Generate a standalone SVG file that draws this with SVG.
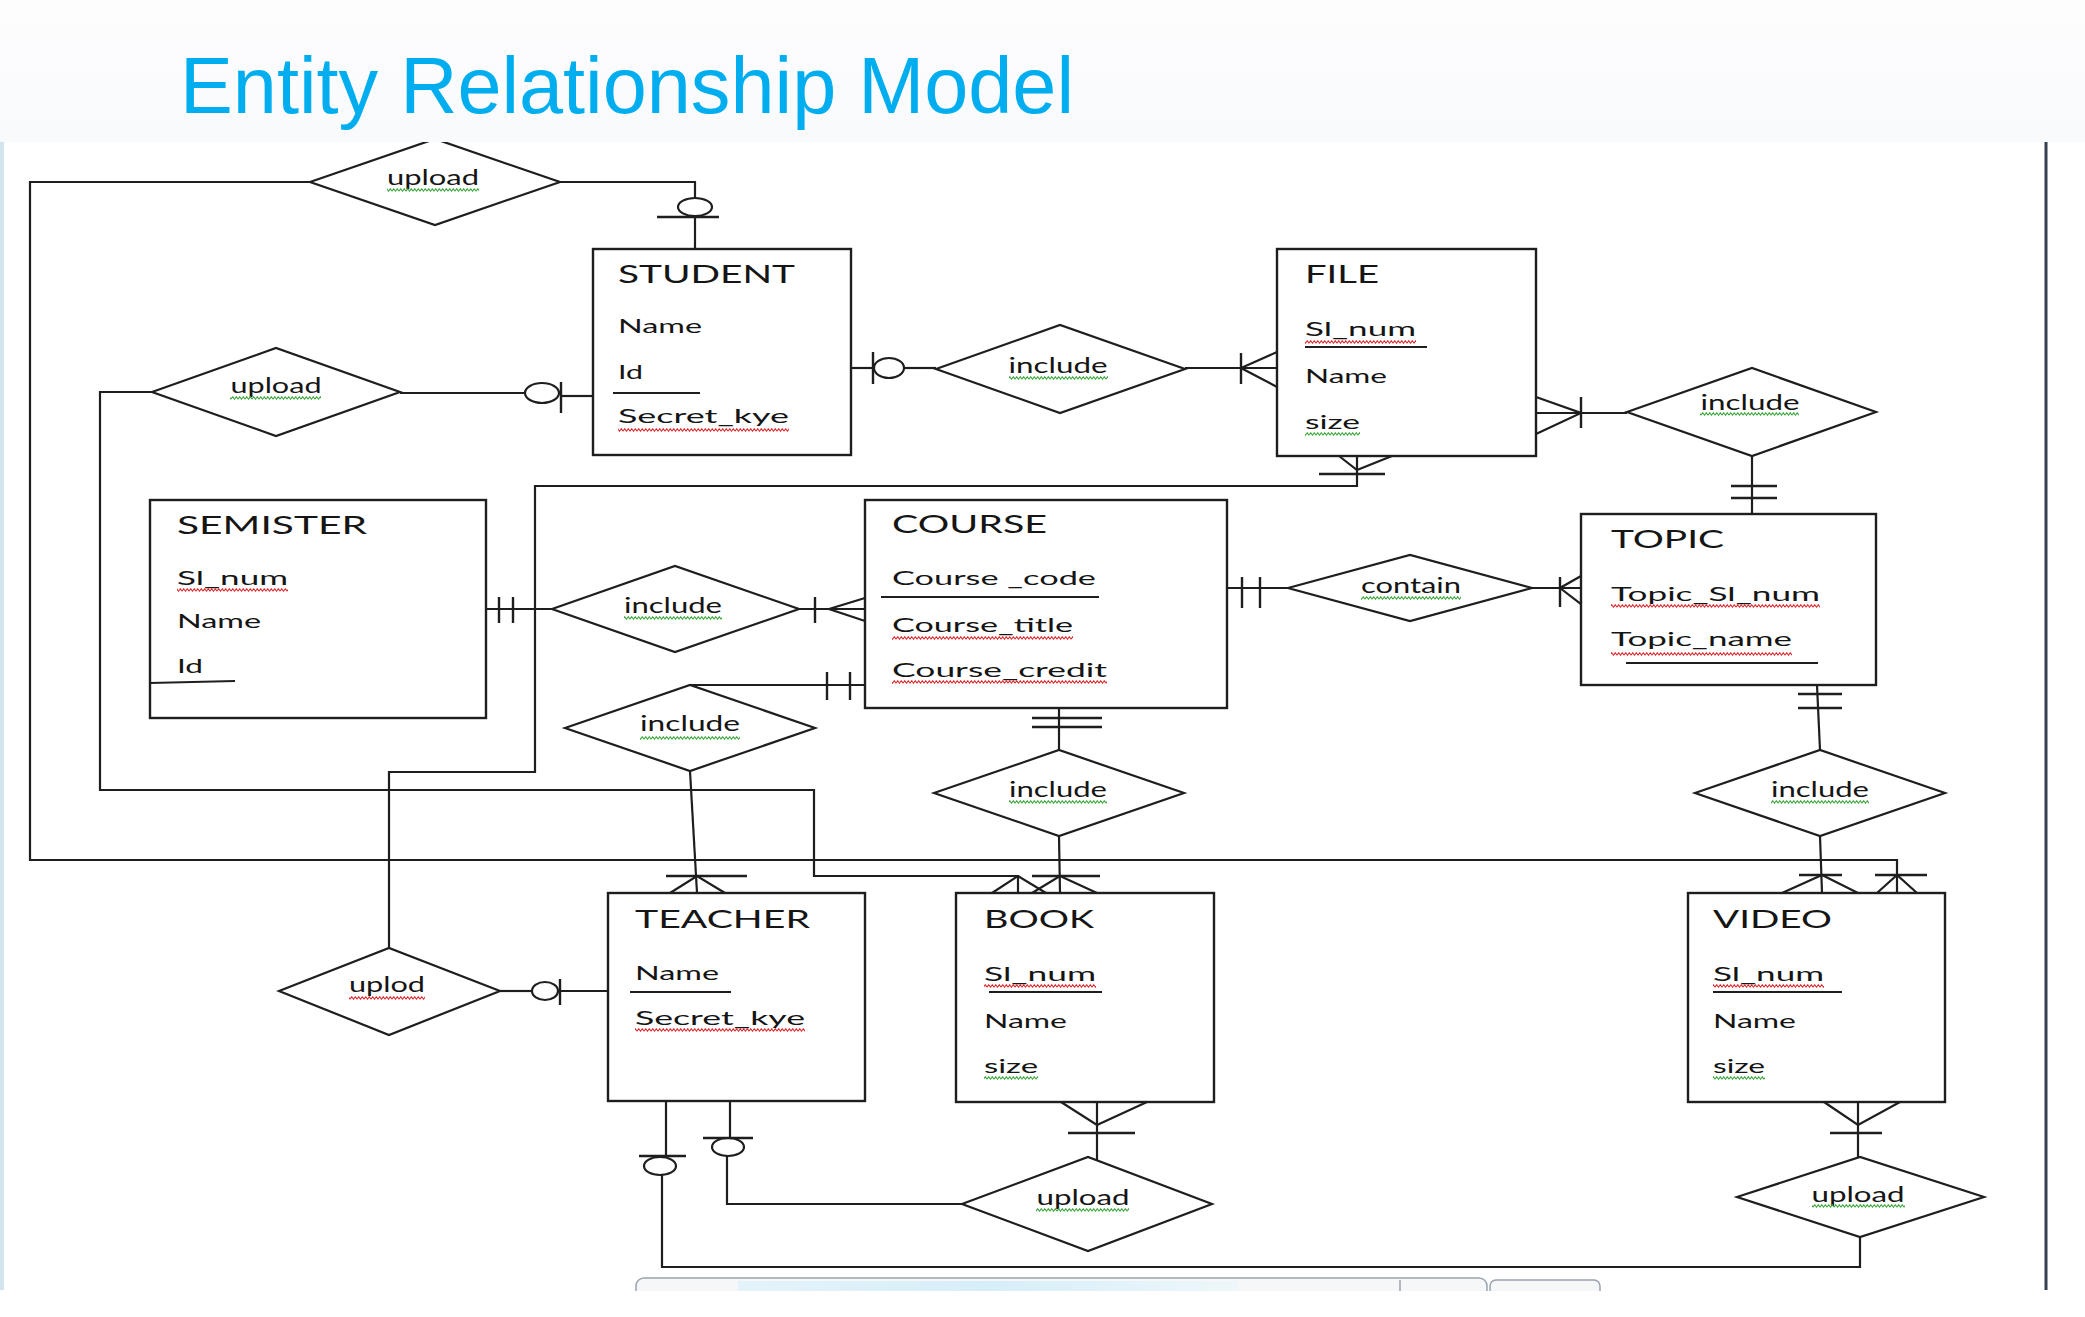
<svg xmlns="http://www.w3.org/2000/svg" width="2085" height="1317" viewBox="0 0 2085 1317">
<defs>
<style>
.box{fill:#fff;stroke:#1e1e1e;stroke-width:2.4}
.dia{fill:#fff;stroke:#1e1e1e;stroke-width:2.2}
.ln{fill:none;stroke:#1e1e1e;stroke-width:2.2}
.sym{fill:none;stroke:#1e1e1e;stroke-width:2.4}
.ell{fill:#fff;stroke:#1e1e1e;stroke-width:2.2}
text{font-family:Lato,Carlito,"Liberation Sans",sans-serif;fill:#151515}
.t{font-size:25px}
.a{font-size:20px}
.r{font-size:21px;text-anchor:middle}
.sr{fill:url(#sqr)}
.sg{fill:url(#sqg)}
text.title{font-family:"Liberation Sans",Arial,sans-serif;font-size:80px;fill:#00aeef}
</style>
<pattern id="sqr" patternUnits="userSpaceOnUse" width="7" height="4"><path d="M0 3.2L1.75 0.8L3.5 3.2L5.25 0.8L7 3.2" fill="none" stroke="#e0262a" stroke-width="1.1"/></pattern>
<pattern id="sqg" patternUnits="userSpaceOnUse" width="7" height="4"><path d="M0 3.2L1.75 0.8L3.5 3.2L5.25 0.8L7 3.2" fill="none" stroke="#3aa53a" stroke-width="1.1"/></pattern>
<linearGradient id="hdr" x1="0" y1="0" x2="0" y2="1"><stop offset="0" stop-color="#fdfdfe"/><stop offset="1" stop-color="#f9fafc"/></linearGradient>
<linearGradient id="tb" x1="0" y1="0" x2="1" y2="0"><stop offset="0" stop-color="#e4f3fa"/><stop offset="0.5" stop-color="#d6eef8"/><stop offset="1" stop-color="#eef7fb"/></linearGradient>
</defs>
<rect x="0" y="0" width="2085" height="1317" fill="#fff"/>
<rect x="0" y="142" width="4" height="1148" fill="#d4e4ee"/>

<g id="connectors">
  <!-- upload1 -> VIDEO (long loop) -->
  <polyline class="ln" points="310,182 30,182 30,860 1897,860 1897,893"/>
  <line class="sym" x1="1875" y1="875" x2="1927" y2="875"/>
  <polyline class="ln" points="1877,893 1897,875 1917,893"/>
  <!-- upload1 -> STUDENT -->
  <polyline class="ln" points="560,182 695,182 695,198"/>
  <ellipse class="ell" cx="695" cy="207" rx="17" ry="9"/>
  <line class="sym" x1="657" y1="217" x2="719" y2="217"/>
  <line class="ln" x1="695" y1="216" x2="695" y2="249"/>
  <!-- upload2 -> STUDENT -->
  <line class="ln" x1="400" y1="393" x2="525" y2="393"/>
  <ellipse class="ell" cx="542" cy="393" rx="17" ry="10"/>
  <line class="sym" x1="561" y1="382" x2="561" y2="413"/>
  <line class="ln" x1="561" y1="396" x2="593" y2="396"/>
  <!-- upload2 -> BOOK -->
  <polyline class="ln" points="152,392 100,392 100,790 814,790 814,876 1018,876 1018,893"/>
  <polyline class="ln" points="992,893 1018,876 1046,893"/>
  <!-- STUDENT -> include1 -->
  <line class="ln" x1="851" y1="368" x2="874" y2="368"/>
  <line class="sym" x1="873" y1="352" x2="873" y2="384"/>
  <ellipse class="ell" cx="889" cy="368" rx="15" ry="10"/>
  <line class="ln" x1="904" y1="368" x2="936" y2="368"/>
  <!-- include1 -> FILE -->
  <line class="ln" x1="1185" y1="368" x2="1277" y2="368"/>
  <line class="sym" x1="1241" y1="353" x2="1241" y2="384"/>
  <polyline class="ln" points="1277,352 1241,368 1277,387"/>
  <!-- FILE -> include2 -->
  <line class="ln" x1="1536" y1="413" x2="1627" y2="413"/>
  <line class="sym" x1="1581" y1="397" x2="1581" y2="428"/>
  <polyline class="ln" points="1536,397 1581,413 1536,434"/>
  <!-- include2 -> TOPIC -->
  <line class="ln" x1="1752" y1="456" x2="1752" y2="514"/>
  <line class="sym" x1="1731" y1="486" x2="1777" y2="486"/>
  <line class="sym" x1="1731" y1="498" x2="1777" y2="498"/>
  <!-- FILE -> uplod (teacher) -->
  <polyline class="ln" points="1357,456 1357,486 535,486 535,772 389,772 389,948"/>
  <line class="sym" x1="1319" y1="474" x2="1385" y2="474"/>
  <polyline class="ln" points="1339,456 1357,470 1392,456"/>
  <!-- SEMISTER -> include3 -->
  <line class="ln" x1="486" y1="609" x2="552" y2="609"/>
  <line class="sym" x1="499" y1="597" x2="499" y2="623"/>
  <line class="sym" x1="513" y1="597" x2="513" y2="623"/>
  <!-- include3 -> COURSE -->
  <line class="ln" x1="799" y1="609" x2="865" y2="609"/>
  <line class="sym" x1="815" y1="597" x2="815" y2="623"/>
  <polyline class="ln" points="865,598 829,609 865,621"/>
  <!-- include4 -> COURSE -->
  <line class="ln" x1="690" y1="685" x2="865" y2="685"/>
  <line class="sym" x1="827" y1="672" x2="827" y2="700"/>
  <line class="sym" x1="850" y1="672" x2="850" y2="700"/>
  <!-- include4 -> TEACHER -->
  <line class="ln" x1="690" y1="771" x2="697" y2="893"/>
  <line class="sym" x1="666" y1="876" x2="747" y2="876"/>
  <polyline class="ln" points="670,893 697,876 725,893"/>
  <!-- COURSE -> contain -->
  <line class="ln" x1="1227" y1="588" x2="1288" y2="588"/>
  <line class="sym" x1="1242" y1="577" x2="1242" y2="608"/>
  <line class="sym" x1="1260" y1="577" x2="1260" y2="608"/>
  <!-- contain -> TOPIC -->
  <line class="ln" x1="1532" y1="588" x2="1581" y2="588"/>
  <line class="sym" x1="1560" y1="577" x2="1560" y2="607"/>
  <polyline class="ln" points="1581,576 1560,588 1581,604"/>
  <!-- COURSE -> include5 -->
  <line class="ln" x1="1059" y1="708" x2="1059" y2="750"/>
  <line class="sym" x1="1032" y1="718" x2="1102" y2="718"/>
  <line class="sym" x1="1032" y1="727" x2="1102" y2="727"/>
  <!-- include5 -> BOOK -->
  <line class="ln" x1="1059" y1="836" x2="1060" y2="893"/>
  <line class="sym" x1="1032" y1="876" x2="1100" y2="876"/>
  <polyline class="ln" points="1032,893 1060,876 1097,893"/>
  <!-- TOPIC -> include6 -->
  <line class="ln" x1="1817" y1="685" x2="1820" y2="750"/>
  <line class="sym" x1="1798" y1="694" x2="1842" y2="694"/>
  <line class="sym" x1="1798" y1="708" x2="1842" y2="708"/>
  <!-- include6 -> VIDEO -->
  <line class="ln" x1="1820" y1="836" x2="1822" y2="893"/>
  <line class="sym" x1="1799" y1="875" x2="1842" y2="875"/>
  <polyline class="ln" points="1782,893 1822,875 1858,893"/>
  <!-- TEACHER -> uplod -->
  <line class="ln" x1="500" y1="991" x2="532" y2="991"/>
  <ellipse class="ell" cx="545" cy="991" rx="13" ry="9"/>
  <line class="sym" x1="560" y1="979" x2="560" y2="1005"/>
  <line class="ln" x1="560" y1="991" x2="608" y2="991"/>
  <!-- BOOK -> upload (book) -->
  <line class="ln" x1="1097" y1="1102" x2="1097" y2="1160"/>
  <polyline class="ln" points="1061,1102 1097,1125 1147,1102"/>
  <line class="sym" x1="1068" y1="1133" x2="1135" y2="1133"/>
  <!-- upload (book) -> TEACHER -->
  <polyline class="ln" points="962,1204 727,1204 727,1156"/>
  <ellipse class="ell" cx="728" cy="1147" rx="16" ry="9"/>
  <line class="sym" x1="703" y1="1138" x2="753" y2="1138"/>
  <line class="ln" x1="730" y1="1138" x2="730" y2="1101"/>
  <!-- upload (video) -> TEACHER -->
  <polyline class="ln" points="1860,1237 1860,1267 662,1267 662,1175"/>
  <ellipse class="ell" cx="660" cy="1166" rx="16" ry="9"/>
  <line class="sym" x1="639" y1="1156" x2="686" y2="1156"/>
  <line class="ln" x1="666" y1="1156" x2="666" y2="1101"/>
  <!-- VIDEO -> upload (video) -->
  <line class="ln" x1="1858" y1="1102" x2="1858" y2="1157"/>
  <polyline class="ln" points="1824,1102 1858,1125 1900,1102"/>
  <line class="sym" x1="1830" y1="1133" x2="1882" y2="1133"/>
</g>

<g id="n-student">
  <rect class="box" x="593" y="249" width="258" height="206"/>
  <text class="t" x="618" y="283" textLength="177" lengthAdjust="spacingAndGlyphs">STUDENT</text>
  <text class="a" x="618" y="333" textLength="84" lengthAdjust="spacingAndGlyphs">Name</text>
  <text class="a" x="618" y="379" textLength="25" lengthAdjust="spacingAndGlyphs">Id</text>
  <line class="ln" x1="613" y1="393" x2="700" y2="393"/>
  <text class="a" x="618" y="423" textLength="171" lengthAdjust="spacingAndGlyphs">Secret_kye</text>
  <rect class="sr" x="618" y="428" width="171" height="4"/>
</g>
<g id="n-file">
  <rect class="box" x="1277" y="249" width="259" height="207"/>
  <text class="t" x="1305" y="283" textLength="74" lengthAdjust="spacingAndGlyphs">FILE</text>
  <text class="a" x="1305" y="336" textLength="111" lengthAdjust="spacingAndGlyphs">Sl_num</text>
  <rect class="sr" x="1305" y="340" width="111" height="4"/>
  <line class="ln" x1="1305" y1="347" x2="1427" y2="347"/>
  <text class="a" x="1305" y="383" textLength="82" lengthAdjust="spacingAndGlyphs">Name</text>
  <text class="a" x="1305" y="429" textLength="55" lengthAdjust="spacingAndGlyphs">size</text>
  <rect class="sg" x="1305" y="432" width="55" height="4"/>
</g>
<g id="n-semister">
  <rect class="box" x="150" y="500" width="336" height="218"/>
  <text class="t" x="177" y="534" textLength="190" lengthAdjust="spacingAndGlyphs">SEMISTER</text>
  <text class="a" x="177" y="585" textLength="111" lengthAdjust="spacingAndGlyphs">Sl_num</text>
  <rect class="sr" x="177" y="588" width="111" height="4"/>
  <text class="a" x="177" y="628" textLength="84" lengthAdjust="spacingAndGlyphs">Name</text>
  <text class="a" x="177" y="673" textLength="26" lengthAdjust="spacingAndGlyphs">Id</text>
  <line class="ln" x1="150" y1="683" x2="235" y2="681"/>
</g>
<g id="n-course">
  <rect class="box" x="865" y="500" width="362" height="208"/>
  <text class="t" x="892" y="533" textLength="155" lengthAdjust="spacingAndGlyphs">COURSE</text>
  <text class="a" x="892" y="585" textLength="204" lengthAdjust="spacingAndGlyphs">Course _code</text>
  <line class="ln" x1="881" y1="597" x2="1099" y2="597"/>
  <text class="a" x="892" y="632" textLength="181" lengthAdjust="spacingAndGlyphs">Course_title</text>
  <rect class="sr" x="892" y="636" width="181" height="4"/>
  <text class="a" x="892" y="677" textLength="215" lengthAdjust="spacingAndGlyphs">Course_credit</text>
  <rect class="sr" x="892" y="680" width="215" height="4"/>
</g>
<g id="n-topic">
  <rect class="box" x="1581" y="514" width="295" height="171"/>
  <text class="t" x="1611" y="548" textLength="113" lengthAdjust="spacingAndGlyphs">TOPIC</text>
  <text class="a" x="1611" y="601" textLength="209" lengthAdjust="spacingAndGlyphs">Topic_Sl_num</text>
  <rect class="sr" x="1611" y="604" width="209" height="4"/>
  <text class="a" x="1611" y="646" textLength="181" lengthAdjust="spacingAndGlyphs">Topic_name</text>
  <rect class="sr" x="1611" y="652" width="181" height="4"/>
  <line class="ln" x1="1626" y1="663" x2="1818" y2="663"/>
</g>
<g id="n-teacher">
  <rect class="box" x="608" y="893" width="257" height="208"/>
  <text class="t" x="635" y="928" textLength="175" lengthAdjust="spacingAndGlyphs">TEACHER</text>
  <text class="a" x="635" y="980" textLength="84" lengthAdjust="spacingAndGlyphs">Name</text>
  <line class="ln" x1="630" y1="992" x2="731" y2="992"/>
  <text class="a" x="635" y="1025" textLength="170" lengthAdjust="spacingAndGlyphs">Secret_kye</text>
  <rect class="sr" x="635" y="1028" width="170" height="4"/>
</g>
<g id="n-book">
  <rect class="box" x="956" y="893" width="258" height="209"/>
  <text class="t" x="984" y="928" textLength="110" lengthAdjust="spacingAndGlyphs">BOOK</text>
  <text class="a" x="984" y="981" textLength="112" lengthAdjust="spacingAndGlyphs">Sl_num</text>
  <rect class="sr" x="984" y="984" width="112" height="4"/>
  <line class="ln" x1="989" y1="992" x2="1102" y2="992"/>
  <text class="a" x="984" y="1028" textLength="83" lengthAdjust="spacingAndGlyphs">Name</text>
  <text class="a" x="984" y="1073" textLength="54" lengthAdjust="spacingAndGlyphs">size</text>
  <rect class="sg" x="984" y="1076" width="54" height="4"/>
</g>
<g id="n-video">
  <rect class="box" x="1688" y="893" width="257" height="209"/>
  <text class="t" x="1713" y="928" textLength="119" lengthAdjust="spacingAndGlyphs">VIDEO</text>
  <text class="a" x="1713" y="981" textLength="111" lengthAdjust="spacingAndGlyphs">Sl_num</text>
  <rect class="sr" x="1713" y="984" width="111" height="4"/>
  <line class="ln" x1="1713" y1="992" x2="1842" y2="992"/>
  <text class="a" x="1713" y="1028" textLength="83" lengthAdjust="spacingAndGlyphs">Name</text>
  <text class="a" x="1713" y="1073" textLength="52" lengthAdjust="spacingAndGlyphs">size</text>
  <rect class="sg" x="1713" y="1076" width="52" height="4"/>
</g>

<g id="r-upload-student-video">
  <polygon class="dia" points="310,182 435,139 560,182 435,225"/>
  <text class="r" x="433" y="185" textLength="92" lengthAdjust="spacingAndGlyphs">upload</text>
  <rect class="sg" x="387" y="188" width="92" height="4"/>
</g>
<g id="r-upload-student-book">
  <polygon class="dia" points="152,392 276,348 400,392 276,436"/>
  <text class="r" x="276" y="393" textLength="91" lengthAdjust="spacingAndGlyphs">upload</text>
  <rect class="sg" x="230" y="396" width="91" height="4"/>
</g>
<g id="r-include-student-file">
  <polygon class="dia" points="936,369 1060,325 1185,369 1060,413"/>
  <text class="r" x="1058" y="373" textLength="99" lengthAdjust="spacingAndGlyphs">include</text>
  <rect class="sg" x="1009" y="376" width="99" height="4"/>
</g>
<g id="r-include-file-topic">
  <polygon class="dia" points="1627,412 1752,368 1876,412 1752,456"/>
  <text class="r" x="1750" y="410" textLength="99" lengthAdjust="spacingAndGlyphs">include</text>
  <rect class="sg" x="1700" y="412" width="99" height="4"/>
</g>
<g id="r-include-semister-course">
  <polygon class="dia" points="552,609 675,566 799,609 675,652"/>
  <text class="r" x="673" y="613" textLength="98" lengthAdjust="spacingAndGlyphs">include</text>
  <rect class="sg" x="624" y="616" width="98" height="4"/>
</g>
<g id="r-include-course-teacher">
  <polygon class="dia" points="565,728 690,685 815,728 690,771"/>
  <text class="r" x="690" y="731" textLength="100" lengthAdjust="spacingAndGlyphs">include</text>
  <rect class="sg" x="640" y="736" width="100" height="4"/>
</g>
<g id="r-contain">
  <polygon class="dia" points="1288,588 1410,555 1532,588 1410,621"/>
  <text class="r" x="1411" y="593" textLength="100" lengthAdjust="spacingAndGlyphs">contain</text>
  <rect class="sg" x="1361" y="596" width="100" height="4"/>
</g>
<g id="r-include-course-book">
  <polygon class="dia" points="934,793 1059,750 1184,793 1059,836"/>
  <text class="r" x="1058" y="797" textLength="98" lengthAdjust="spacingAndGlyphs">include</text>
  <rect class="sg" x="1009" y="800" width="98" height="4"/>
</g>
<g id="r-include-topic-video">
  <polygon class="dia" points="1695,793 1820,750 1945,793 1820,836"/>
  <text class="r" x="1820" y="797" textLength="98" lengthAdjust="spacingAndGlyphs">include</text>
  <rect class="sg" x="1771" y="800" width="98" height="4"/>
</g>
<g id="r-uplod">
  <polygon class="dia" points="279,991 389,948 500,991 389,1035"/>
  <text class="r" x="387" y="992" textLength="76" lengthAdjust="spacingAndGlyphs">uplod</text>
  <rect class="sr" x="349" y="996" width="76" height="4"/>
</g>
<g id="r-upload-book">
  <polygon class="dia" points="962,1204 1088,1157 1212,1204 1088,1251"/>
  <text class="r" x="1083" y="1205" textLength="93" lengthAdjust="spacingAndGlyphs">upload</text>
  <rect class="sg" x="1036" y="1208" width="93" height="4"/>
</g>
<g id="r-upload-video">
  <polygon class="dia" points="1737,1197 1860,1157 1984,1197 1860,1237"/>
  <text class="r" x="1858" y="1202" textLength="93" lengthAdjust="spacingAndGlyphs">upload</text>
  <rect class="sg" x="1812" y="1204" width="93" height="4"/>
</g>

<g id="frame">
  <rect x="0" y="0" width="2085" height="142" fill="url(#hdr)"/>
  <line x1="2046" y1="142" x2="2046" y2="1290" stroke="#34404f" stroke-width="3"/>
  <rect x="636" y="1278" width="851" height="30" rx="8" fill="#f5f7f9" stroke="#9aa3ad" stroke-width="1.5"/>
  <rect x="738" y="1281" width="500" height="10" fill="url(#tb)"/>
  <line x1="1400" y1="1280" x2="1400" y2="1292" stroke="#9aa3ad" stroke-width="1.5"/>
  <rect x="1490" y="1280" width="110" height="28" rx="6" fill="#f5f7f9" stroke="#9aa3ad" stroke-width="1.5"/>
  <rect x="0" y="1291" width="2085" height="26" fill="#fff"/>
</g>
<text class="title" x="180" y="113" textLength="894" lengthAdjust="spacingAndGlyphs">Entity Relationship Model</text>
</svg>
